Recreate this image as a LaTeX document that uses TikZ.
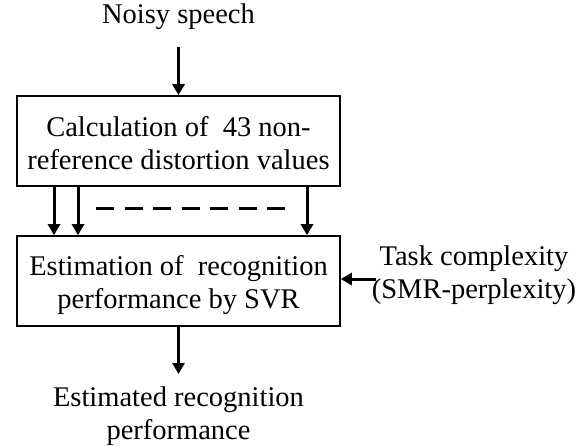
\documentclass[tikz,border=0pt]{standalone}
\usepackage{fontspec}
\setmainfont{Liberation Serif}
\usetikzlibrary{arrows.meta}
\begin{document}
\begin{tikzpicture}[x=1pt,y=-1pt,
  every node/.style={font=\fontsize{28.5}{32.5}\selectfont, align=center, inner sep=0pt},
  block/.style={draw, line width=1.6pt, minimum width=323pt, minimum height=90pt},
  arr/.style={line width=3pt, -{Triangle[length=11pt,width=12pt]}},
  dashline/.style={line width=3pt, dash pattern=on 18pt off 10.5pt}]
\useasboundingbox (0,0) rectangle (585,445);

% labels outside the blocks
\node (noisy) at (178.5,17) {Noisy speech};
\node (task) at (474,275) {Task complexity\\(SMR-perplexity)};
\node (out) at (178.5,416) {Estimated recognition\\performance};

% processing blocks
\node[block] (calc) at (178.5,141) {};
\node[block] (est) at (178.5,281) {};
\node (calcText) at (178.5,143) {Calculation of\ \ 43 non-\\reference distortion values};
\node (estText) at (178.5,285) {Estimation of\ \ recognition\\performance by SVR};

% free arrow ends
\coordinate (inTop) at (178.5,47);
\coordinate (outEnd) at (178.5,374);
\coordinate (taskStart) at (376,279);
\coordinate (dashA) at (96,208);
\coordinate (dashB) at (287,208);

% input and output arrows
\draw[arr] (inTop) -- (calc.north);
\draw[arr] (est.south) -- (outEnd);
\draw[arr] (taskStart) -- (taskStart -| est.east);

% distortion values passed to the estimator
\draw[arr] (calc.south -| 54,0) -- (est.north -| 54,0);
\draw[arr] (calc.south -| 78,0) -- (est.north -| 78,0);
\draw[arr] (calc.south -| 307,0) -- (est.north -| 307,0);
\draw[dashline] (dashA) -- (dashB);
\end{tikzpicture}
\end{document}
